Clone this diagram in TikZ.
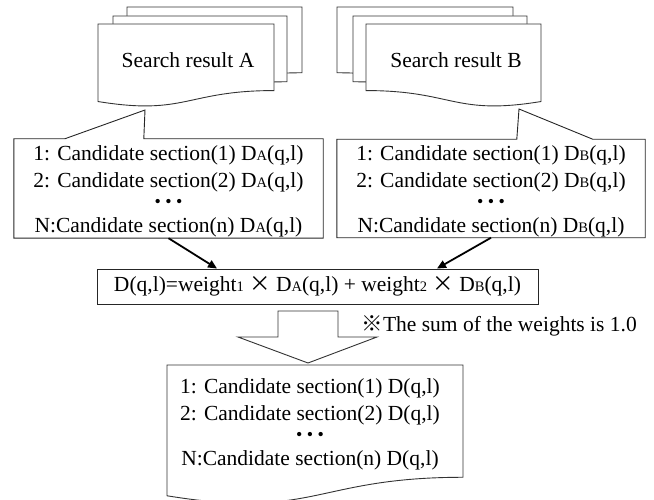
\documentclass[tikz,border=0pt]{standalone}
\usepackage{fontspec}
\setmainfont{Liberation Serif}
\newfontfamily\cjk{Noto Sans CJK JP}
\usetikzlibrary{
  arrows.meta,
  positioning,
  calc
}
\tikzset{
  doc/.style={
    draw=black!80, fill=white, line width=0.9pt
  },
  callout/.style={
    draw=black!85, line width=0.9pt
  },
  list box/.style={
    rectangle, inner sep=0pt, align=center
  },
  formula box/.style={
    draw=black!85, line width=0.9pt, rectangle, inner sep=0pt,
    minimum width=441pt, minimum height=35pt
  },
  merge arrow/.style={
    -{Triangle[length=9pt,width=8pt]}, line width=1.8pt, draw=black
  },
  block arrow/.style={
    draw=black!80, fill=white, line width=0.9pt
  },
}
% small letters set on the baseline (D_A, weight_1)
\newcommand{\sm}[1]{{\fontsize{14.5}{14.5}\selectfont #1}}
\newcommand{\dotrow}{\raisebox{2.5pt}{\fontsize{18}{18}\selectfont
  \textbullet\kern4.5pt\textbullet\kern4.5pt\textbullet}}
% document shape (wave at the bottom), and its mirror image
\newcommand{\docpage}[4]{%
  \draw[doc] (#1,#2) -- ({#1+#3},#2) -- ({#1+#3},{#2+0.802*#4})
    .. controls ({#1+0.5*#3},{#2+0.802*#4}) and ({#1+0.5*#3},{#2+1.107*#4})
    .. (#1,{#2+0.934*#4}) -- cycle;}
\newcommand{\docpageflip}[4]{%
  \draw[doc] (#1,#2) -- ({#1+#3},#2) -- ({#1+#3},{#2+0.934*#4})
    .. controls ({#1+0.5*#3},{#2+1.107*#4}) and ({#1+0.5*#3},{#2+0.802*#4})
    .. (#1,{#2+0.802*#4}) -- cycle;}

\begin{document}
\begin{tikzpicture}[x=1pt, y=-1pt, font=\fontsize{21.5}{27}\selectfont]

  \useasboundingbox (0,0) rectangle (654,500);

  % Search result A (stack of three pages)
  \docpage{127}{7}{175}{82}
  \docpage{113}{16}{174}{82}
  \docpage{98}{24}{176}{83}
  \node (searchA) at (188,60.6) {Search result A};

  % Search result B (mirrored stack)
  \docpageflip{337}{7}{176}{82}
  \docpageflip{353}{16}{174}{82}
  \docpageflip{366}{24}{175}{83}
  \node (searchB) at (456,60.6) {Search result B};

  % Candidate lists
  \node[list box, minimum width=309pt, minimum height=99pt]
    (listA) at (168.5,188.5)
    {\rule{0pt}{21.5pt}1: Candidate section(1) D\sm{A}(q,l)\\
     2: Candidate section(2) D\sm{A}(q,l)\\[-4.5pt]
     \dotrow\\[-4.5pt]
     N:Candidate section(n) D\sm{A}(q,l)};
  \node[list box, minimum width=308pt, minimum height=97pt]
    (listB) at (491,188.5)
    {\rule{0pt}{21.5pt}1: Candidate section(1) D\sm{B}(q,l)\\
     2: Candidate section(2) D\sm{B}(q,l)\\[-4.5pt]
     \dotrow\\[-4.5pt]
     N:Candidate section(n) D\sm{B}(q,l)};

  \coordinate (tipA) at (145,110);
  \coordinate (tipB) at (519,109);
  \draw[callout] (listA.north west) -- ([xshift=51pt]listA.north west)
    -- (tipA) -- ([xshift=130pt]listA.north west) -- (listA.north east)
    -- (listA.south east) -- (listA.south west) -- cycle;
  \draw[callout] (listB.north west) -- ([xshift=180pt]listB.north west)
    -- (tipB) -- ([xshift=256pt]listB.north west) -- (listB.north east)
    -- (listB.south east) -- (listB.south west) -- cycle;

  % Weighted sum
  \node[formula box] (formula) at (317.5,286.5)
    {D(q,l)=weight\sm{1} {\cjk ×} D\sm{A}(q,l) + weight\sm{2} {\cjk ×} D\sm{B}(q,l)};
  \draw[merge arrow] (listA.south) -- ([xshift=-100.5pt]formula.north);
  \draw[merge arrow] (listB.south) -- ([xshift=119.5pt]formula.north);

  \node[anchor=base west] (note) at (358,331.7)
    {{\cjk ※}The sum of the weights is 1.0};

  % Block arrow down to the merged result
  \draw[block arrow] (278,311) -- (338,311) -- (338,337) -- (377,337)
    -- (308,363) -- (238,337) -- (278,337) -- cycle;

  % Merged result
  \docpage{167}{365}{296}{140}
  \node[list box] (result) at (310,424)
    {1: Candidate section(1) D(q,l)\\
     2: Candidate section(2) D(q,l)\\[-4.5pt]
     \dotrow\\[-4.5pt]
     N:Candidate section(n) D(q,l)};

\end{tikzpicture}
\end{document}
